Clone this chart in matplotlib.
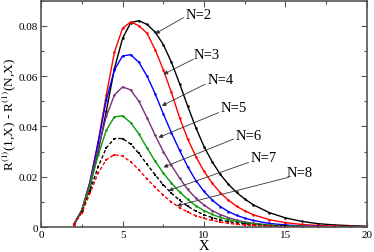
import matplotlib
matplotlib.use("Agg")
import matplotlib.pyplot as plt
from matplotlib.ticker import MultipleLocator

plt.rcParams['font.family'] = ['Liberation Serif', 'DejaVu Serif']
plt.rcParams['mathtext.fontset'] = 'stix'

x = [2.0, 2.5, 3.0, 3.5, 4.0, 4.5, 5.0, 5.5, 6.0, 6.5, 7.0, 7.5, 8.0, 8.5, 9.0,
     9.5, 10.0, 10.5, 11.0, 11.5, 12.0, 12.5, 13, 14, 15, 16, 17, 18, 19, 20]

n2 = [0.0010, 0.0065, 0.0165, 0.0300, 0.0460, 0.0630, 0.0750, 0.0812, 0.0820, 0.0805,
      0.0775, 0.0725, 0.0655, 0.0570, 0.0480, 0.0395, 0.0320, 0.0260, 0.0210, 0.0170,
      0.0138, 0.0112, 0.0090, 0.0058, 0.0037, 0.0023, 0.0014, 0.0009, 0.0006, 0.0004]
n3 = [0.0010, 0.0068, 0.0180, 0.0340, 0.0525, 0.0695, 0.0790, 0.0815, 0.0800, 0.0770,
      0.0705, 0.0625, 0.0535, 0.0435, 0.0350, 0.0280, 0.0222, 0.0175, 0.0137, 0.0107,
      0.0083, 0.0065, 0.0050, 0.0030, 0.0018, 0.0011, 0.0007, 0.0004, 0.0003, 0.0002]
n4 = [0.0010, 0.0068, 0.0180, 0.0335, 0.0505, 0.0625, 0.0680, 0.0685, 0.0655, 0.0600,
      0.0530, 0.0450, 0.0375, 0.0305, 0.0240, 0.0185, 0.0142, 0.0108, 0.0082, 0.0062,
      0.0047, 0.0036, 0.0027, 0.0015, 0.0009, 0.0005, 0.0003, 0.0002, 0.0001, 0.0001]
n5 = [0.0010, 0.0068, 0.0175, 0.0310, 0.0440, 0.0525, 0.0557, 0.0545, 0.0500, 0.0435,
      0.0365, 0.0300, 0.0245, 0.0195, 0.0150, 0.0115, 0.0088, 0.0066, 0.0050, 0.0038,
      0.0028, 0.0021, 0.0016, 0.0009, 0.0005, 0.0003, 0.0002, 0.0001, 0.0001, 0.0001]
n6 = [0.0010, 0.0065, 0.0165, 0.0285, 0.0385, 0.0438, 0.0442, 0.0415, 0.0370, 0.0315,
      0.0262, 0.0215, 0.0175, 0.0140, 0.0110, 0.0085, 0.0066, 0.0051, 0.0039, 0.0030,
      0.0023, 0.0017, 0.0013, 0.0008, 0.0005, 0.0003, 0.0002, 0.0001, 0.0001, 0.0001]
n7 = [0.0010, 0.0060, 0.0145, 0.0240, 0.0315, 0.0352, 0.0352, 0.0330, 0.0293, 0.0250,
      0.0208, 0.0168, 0.0135, 0.0107, 0.0083, 0.0064, 0.0049, 0.0038, 0.0029, 0.0022,
      0.0017, 0.0013, 0.0010, 0.0006, 0.0004, 0.0002, 0.0001, 0.0001, 0.0001, 0.0000]
n8 = [0.0010, 0.0058, 0.0135, 0.0215, 0.0268, 0.0288, 0.0282, 0.0260, 0.0228, 0.0192,
      0.0158, 0.0127, 0.0100, 0.0078, 0.0060, 0.0046, 0.0035, 0.0027, 0.0020, 0.0015,
      0.0012, 0.0009, 0.0007, 0.0004, 0.0002, 0.0001, 0.0001, 0.0001, 0.0000, 0.0000]

labels = ["N=2", "N=3", "N=4", "N=5", "N=6", "N=7", "N=8"]
series = [n2, n3, n4, n5, n6, n7, n8]
colors = ['black', '#ff0000', '#0000ff', '#7a2f7a', '#0a9a0a', 'black', '#ff0000']
styles = ['-', '-', '-', '-', '-', (0, (2.5, 1.5)), (0, (2.5, 1.5))]
markers = ['o', 'o', 'o', 'o', 'o', 's', 's']

# label positions (left edge of text) and arrow tail/head, in data coordinates
text_pos = [(8.84, 0.0845), (9.36, 0.0686), (10.22, 0.0587), (10.99, 0.0475),
            (11.97, 0.0363), (12.88, 0.0277), (15.09, 0.0218)]
arrow_tail = [(8.74, 0.0832), (9.35, 0.0667), (10.07, 0.0568), (10.89, 0.0455),
              (11.81, 0.0350), (12.73, 0.0257), (15.19, 0.0198)]
arrow_head = [(7.00, 0.0768), (7.51, 0.0607), (7.41, 0.0482), (7.20, 0.0356),
              (7.51, 0.0238), (7.82, 0.0145), (8.33, 0.0085)]

fig = plt.figure(figsize=(3.74, 2.53), dpi=100)
ax = fig.add_axes([0.110, 0.098, 0.871, 0.896])

for ys, c, ls, m in zip(series, colors, styles, markers):
    ax.plot(x, ys, color=c, linestyle=ls, linewidth=1.0, marker=m,
            markersize=1.8, markeredgewidth=0)

for lab, tp, at, ah in zip(labels, text_pos, arrow_tail, arrow_head):
    ax.text(tp[0], tp[1], lab, ha='left', va='center', fontsize=10.5)
    ax.annotate('', xy=ah, xytext=at,
                arrowprops=dict(arrowstyle='-|>', color='#333333', lw=0.6,
                                mutation_scale=6, shrinkA=0, shrinkB=0))

ax.set_xlim(0, 20)
ax.set_ylim(0, 0.09)
ax.xaxis.set_major_locator(MultipleLocator(5))
ax.xaxis.set_minor_locator(MultipleLocator(2.5))
ax.set_yticks([0, 0.02, 0.04, 0.06, 0.08])
ax.set_yticklabels(['0', '0.02', '0.04', '0.06', '0.08'])
ax.yaxis.set_minor_locator(MultipleLocator(0.01))
ax.tick_params(which='both', direction='in', top=True, right=True,
               labelsize=8, color='#555555', width=0.8)
ax.tick_params(which='major', length=4.5, pad=2)
ax.tick_params(which='minor', length=2.5)
for s in ax.spines.values():
    s.set_color('#555555')
    s.set_linewidth(1.2)

ax.set_xlabel('X', fontsize=10.5, labelpad=0)
ax.set_ylabel(r'R$^{(1)}$(1,X) - R$^{(1)}$(N,X)', fontsize=9.5, labelpad=1)

fig.savefig('out.png', dpi=100)
